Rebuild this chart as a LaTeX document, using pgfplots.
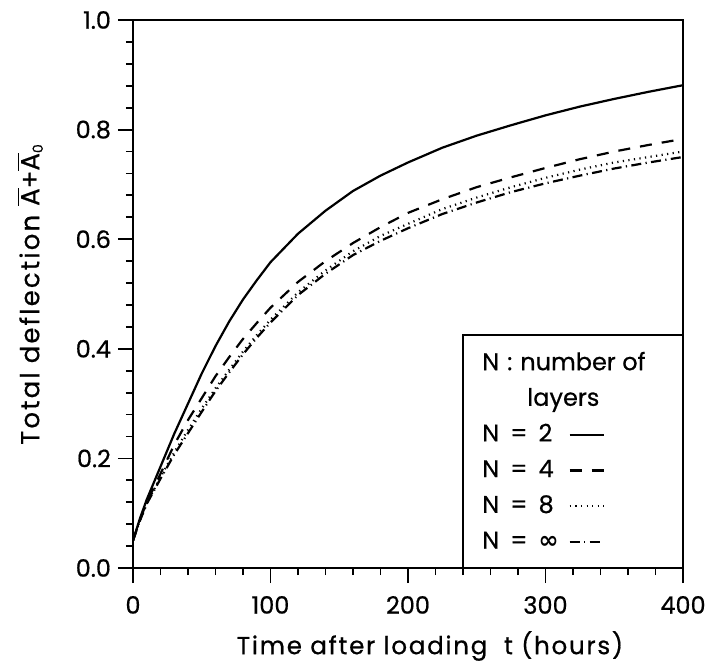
\documentclass[border=0pt]{standalone}
\usepackage{fontspec}
\setmainfont{Poppins}[FakeBold=0.6]
\newfontfamily\xlabelfont{Poppins}[FakeBold=0.6, LetterSpace=7]
\newfontfamily\ylabelfont{Poppins}[FakeBold=0.6, LetterSpace=8]
\newfontfamily\symfont{DejaVu Sans}
\usepackage{pgfplots}
\pgfplotsset{compat=1.18}

% creep deflection curves, one table per number of layers
\pgfplotstableread{
t    v
0    0.050
5    0.090
10   0.125
20   0.185
30   0.245
40   0.300
50   0.355
60   0.405
70   0.450
80   0.490
90   0.525
100  0.558
120  0.610
140  0.652
160  0.688
180  0.716
200  0.740
225  0.767
250  0.789
275  0.808
300  0.826
325  0.842
350  0.856
375  0.869
400  0.881
}\layerstwo
\pgfplotstableread{
t    v
0    0.050
5    0.088
10   0.120
20   0.172
30   0.225
40   0.270
50   0.310
60   0.350
70   0.385
80   0.418
90   0.447
100  0.475
120  0.522
140  0.560
160  0.593
180  0.622
200  0.648
225  0.673
250  0.695
275  0.713
300  0.730
325  0.746
350  0.760
375  0.772
400  0.783
}\layersfour
\pgfplotstableread{
t    v
0    0.050
5    0.087
10   0.118
20   0.166
30   0.211
40   0.252
50   0.291
60   0.328
70   0.362
80   0.395
90   0.425
100  0.453
120  0.503
140  0.543
160  0.578
180  0.606
200  0.628
225  0.655
250  0.676
275  0.695
300  0.712
325  0.727
350  0.740
375  0.750
400  0.760
}\layerseight
\pgfplotstableread{
t    v
0    0.050
5    0.086
10   0.117
20   0.163
30   0.207
40   0.246
50   0.285
60   0.323
70   0.357
80   0.390
90   0.420
100  0.448
120  0.498
140  0.537
160  0.571
180  0.597
200  0.620
225  0.646
250  0.667
275  0.686
300  0.702
325  0.716
350  0.729
375  0.740
400  0.750
}\layersinf

\newcommand\eq{\hspace{5.5pt}=\hspace{5.5pt}}

\begin{document}
\begin{tikzpicture}[font=\fontsize{12}{14}\selectfont]
\begin{axis}[
  name=ax,
  scale only axis, width=275pt, height=274pt,
  xmin=0, xmax=400, ymin=0, ymax=1,
  xtick={0,100,200,300,400}, ytick={0,0.2,0.4,0.6,0.8,1},
  minor x tick num=4, minor y tick num=4,
  tick align=outside, tick pos=left,
  major tick length=7.5pt, minor tick length=3.5pt,
  axis line style={line width=1pt},
  every tick/.style={black, line width=0.9pt},
  /pgf/number format/assume math mode=true,
  yticklabel style={/pgf/number format/.cd, fixed, fixed zerofill, precision=1},
  xticklabel style={yshift=-3pt},
  xlabel={\xlabelfont Time after loading\ \ t (hours)},
  ylabel={\ylabelfont Total deflection $\overline{\mbox{A}}$+$\overline{\mbox{A}}_{\mbox{\scriptsize 0}}$},
  x label style={at={(axis description cs:0.5,0)}, anchor=center, xshift=11pt, yshift=-39pt,
    font=\fontsize{12.3}{14}\selectfont},
  y label style={at={(axis description cs:0,0.5)}, anchor=center, yshift=51.5pt,
    font=\fontsize{13}{15}\selectfont},
  legend plot pos=right,
  legend cell align=left,
  legend image code/.code={\draw[#1] (0pt,-1.2pt) -- (17pt,-1.2pt);},
  legend style={draw=none, fill=none, at={(0.6345,0.2646)}, anchor=north west,
    inner sep=0pt, row sep=8.85pt, column sep=5pt,
    nodes={inner sep=0pt, text height=9pt, text depth=0pt},
    font=\fontsize{12}{14}\selectfont},
]
\addplot[black, line width=1.1pt] table[x=t, y=v] {\layerstwo};
\addlegendentry{N\eq 2}
\addplot[black, line width=1.1pt, dash pattern=on 6pt off 5pt] table[x=t, y=v] {\layersfour};
\addlegendentry{N\eq 4}
\addplot[black, line width=1.1pt, dash pattern=on 0.6pt off 2.2pt] table[x=t, y=v] {\layerseight};
\addlegendentry{N\eq 8}
\addplot[black, line width=1.1pt, dash pattern=on 5pt off 2.2pt on 0.6pt off 2.2pt] table[x=t, y=v] {\layersinf};
\addlegendentry{N\eq {\symfont\bfseries ∞}}

% legend frame and heading
\draw[line width=0.9pt] (axis cs:240,0) rectangle (axis cs:400,0.425);
\node[anchor=base west, inner sep=0pt] at (axis cs:253.8,0.361) {N\hspace{4pt}:\hspace{4pt}number of};
\node[anchor=base, inner sep=0pt] at (axis cs:313,0.296) {layers};
\end{axis}
\pgfresetboundingbox
\path ([shift={(-66.5pt,-46pt)}]ax.south west) rectangle ([shift={(14pt,10pt)}]ax.north east);
\end{tikzpicture}
\end{document}
